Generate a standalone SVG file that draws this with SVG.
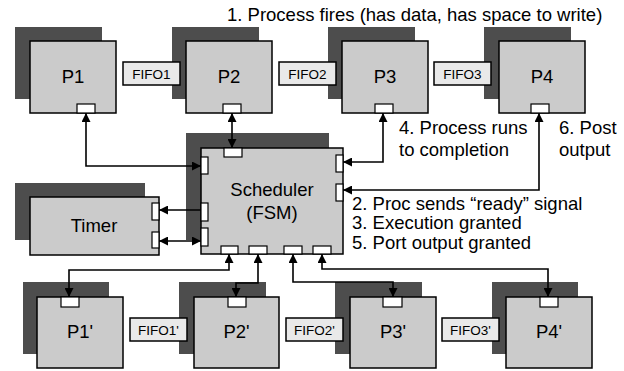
<svg xmlns="http://www.w3.org/2000/svg" width="624" height="371" viewBox="0 0 624 371">
<style>
.sh{fill:#4d4d4d}
.bx{fill:#cbcbcb;stroke:#000;stroke-width:1.5}
.pt{fill:#fff;stroke:#000;stroke-width:1.2}
.ff{fill:#e9e9e9;stroke:#000;stroke-width:1.5}
.t{font-family:"Liberation Sans",Arial,sans-serif;fill:#000}
.big{font-size:18.5px;text-anchor:middle}
.fl{font-size:13.5px;text-anchor:middle}
.lb{font-size:18.5px}
.c{fill:none;stroke:#000;stroke-width:1.6}
</style>
<defs>
<marker id="ah" viewBox="0 0 10 10" refX="10" refY="5" markerWidth="9" markerHeight="9" markerUnits="userSpaceOnUse" orient="auto-start-reverse">
<path d="M0,0 L10,5 L0,10 z" fill="#000"/>
</marker>
</defs>
<rect width="624" height="371" fill="#fff"/>

<g id="P1"><rect class="sh" x="15" y="27" width="87" height="72"/><rect class="bx" x="30" y="41" width="86" height="72"/><rect class="pt" x="77" y="104" width="18" height="9"/><text class="t big" x="73" y="83">P1</text></g>
<g id="P2"><rect class="sh" x="172" y="27" width="87" height="72"/><rect class="bx" x="186" y="41" width="86" height="72"/><rect class="pt" x="223" y="104" width="18" height="9"/><text class="t big" x="229" y="83">P2</text></g>
<g id="P3"><rect class="sh" x="328" y="27" width="87" height="72"/><rect class="bx" x="342" y="41" width="86" height="72"/><rect class="pt" x="375" y="104" width="18" height="9"/><text class="t big" x="385" y="83">P3</text></g>
<g id="P4"><rect class="sh" x="484" y="27" width="87" height="72"/><rect class="bx" x="499" y="41" width="86" height="72"/><rect class="pt" x="531" y="104" width="18" height="9"/><text class="t big" x="542" y="83">P4</text></g>

<g id="FIFO1"><rect class="ff" x="123" y="62" width="57" height="23"/><text class="t fl" x="151.5" y="79">FIFO1</text></g>
<g id="FIFO2"><rect class="ff" x="279" y="62" width="57" height="23"/><text class="t fl" x="307.5" y="79">FIFO2</text></g>
<g id="FIFO3"><rect class="ff" x="434" y="62" width="57" height="23"/><text class="t fl" x="462.5" y="79">FIFO3</text></g>

<g id="Scheduler"><rect class="sh" x="186" y="133" width="143" height="107"/><rect class="bx" x="201" y="148" width="142" height="106"/>
<rect class="pt" x="224" y="148" width="18" height="9"/>
<rect class="pt" x="201" y="157" width="7" height="17"/><rect class="pt" x="201" y="203" width="7" height="18"/><rect class="pt" x="201" y="228" width="7" height="18"/>
<rect class="pt" x="336" y="155" width="7" height="17"/><rect class="pt" x="336" y="184" width="7" height="17"/>
<rect class="pt" x="221" y="246" width="17" height="8"/><rect class="pt" x="249" y="246" width="18" height="8"/><rect class="pt" x="284" y="246" width="18" height="8"/><rect class="pt" x="313" y="246" width="18" height="8"/>
<text class="t big" x="272" y="196">Scheduler</text><text class="t big" x="272" y="219">(FSM)</text></g>

<g id="Timer"><rect class="sh" x="15" y="183" width="130" height="57"/><rect class="bx" x="30" y="197" width="129" height="58"/>
<rect class="pt" x="152" y="203" width="7" height="17"/><rect class="pt" x="152" y="232" width="7" height="16"/>
<text class="t big" x="94" y="232">Timer</text></g>

<g id="P1b"><rect class="sh" x="23" y="282" width="86" height="72"/><rect class="bx" x="37" y="297" width="86" height="71"/><rect class="pt" x="61" y="297" width="18" height="10"/><text class="t big" x="80" y="338">P1'</text></g>
<g id="P2b"><rect class="sh" x="179" y="282" width="87" height="72"/><rect class="bx" x="194" y="297" width="85" height="71"/><rect class="pt" x="228" y="297" width="18" height="10"/><text class="t big" x="236.5" y="338">P2'</text></g>
<g id="P3b"><rect class="sh" x="335" y="282" width="87" height="72"/><rect class="bx" x="350" y="297" width="86" height="71"/><rect class="pt" x="383" y="297" width="19" height="10"/><text class="t big" x="393" y="338">P3'</text></g>
<g id="P4b"><rect class="sh" x="492" y="282" width="86" height="72"/><rect class="bx" x="506" y="297" width="86" height="71"/><rect class="pt" x="540" y="297" width="18" height="10"/><text class="t big" x="549" y="338">P4'</text></g>

<g id="FIFO1b"><rect class="ff" x="130" y="318" width="57" height="23"/><text class="t fl" x="158.5" y="335">FIFO1'</text></g>
<g id="FIFO2b"><rect class="ff" x="286" y="318" width="57" height="23"/><text class="t fl" x="314.5" y="335">FIFO2'</text></g>
<g id="FIFO3b"><rect class="ff" x="442" y="318" width="57" height="23"/><text class="t fl" x="470.5" y="335">FIFO3'</text></g>

<g id="connectors">
<path class="c" d="M86,113 V166 H201" marker-start="url(#ah)" marker-end="url(#ah)"/>
<path class="c" d="M232,113 V148" marker-start="url(#ah)" marker-end="url(#ah)"/>
<path class="c" d="M383,113 V162 H343" marker-start="url(#ah)" marker-end="url(#ah)"/>
<path class="c" d="M539,113 V190 H343" marker-start="url(#ah)" marker-end="url(#ah)"/>
<path class="c" d="M201,210 H159" marker-end="url(#ah)"/>
<path class="c" d="M201,241 H159" marker-start="url(#ah)" marker-end="url(#ah)"/>
<path class="c" d="M229,254 V270 H69 V297" marker-start="url(#ah)" marker-end="url(#ah)"/>
<path class="c" d="M258,254 V283 H236 V297" marker-start="url(#ah)" marker-end="url(#ah)"/>
<path class="c" d="M293,254 V282 H393 V297" marker-start="url(#ah)" marker-end="url(#ah)"/>
<path class="c" d="M322,254 V269 H548 V297" marker-start="url(#ah)" marker-end="url(#ah)"/>
</g>

<g id="labels">
<text class="t lb" x="227" y="21">1. Process fires (has data, has space to write)</text>
<text class="t lb" x="399" y="134">4. Process runs</text>
<text class="t lb" x="399" y="156">to completion</text>
<text class="t lb" x="559" y="134">6. Post</text>
<text class="t lb" x="559" y="156">output</text>
<text class="t lb" x="352" y="210">2. Proc sends “ready” signal</text>
<text class="t lb" x="352" y="229">3. Execution granted</text>
<text class="t lb" x="352" y="249">5. Port output granted</text>
</g>
</svg>
